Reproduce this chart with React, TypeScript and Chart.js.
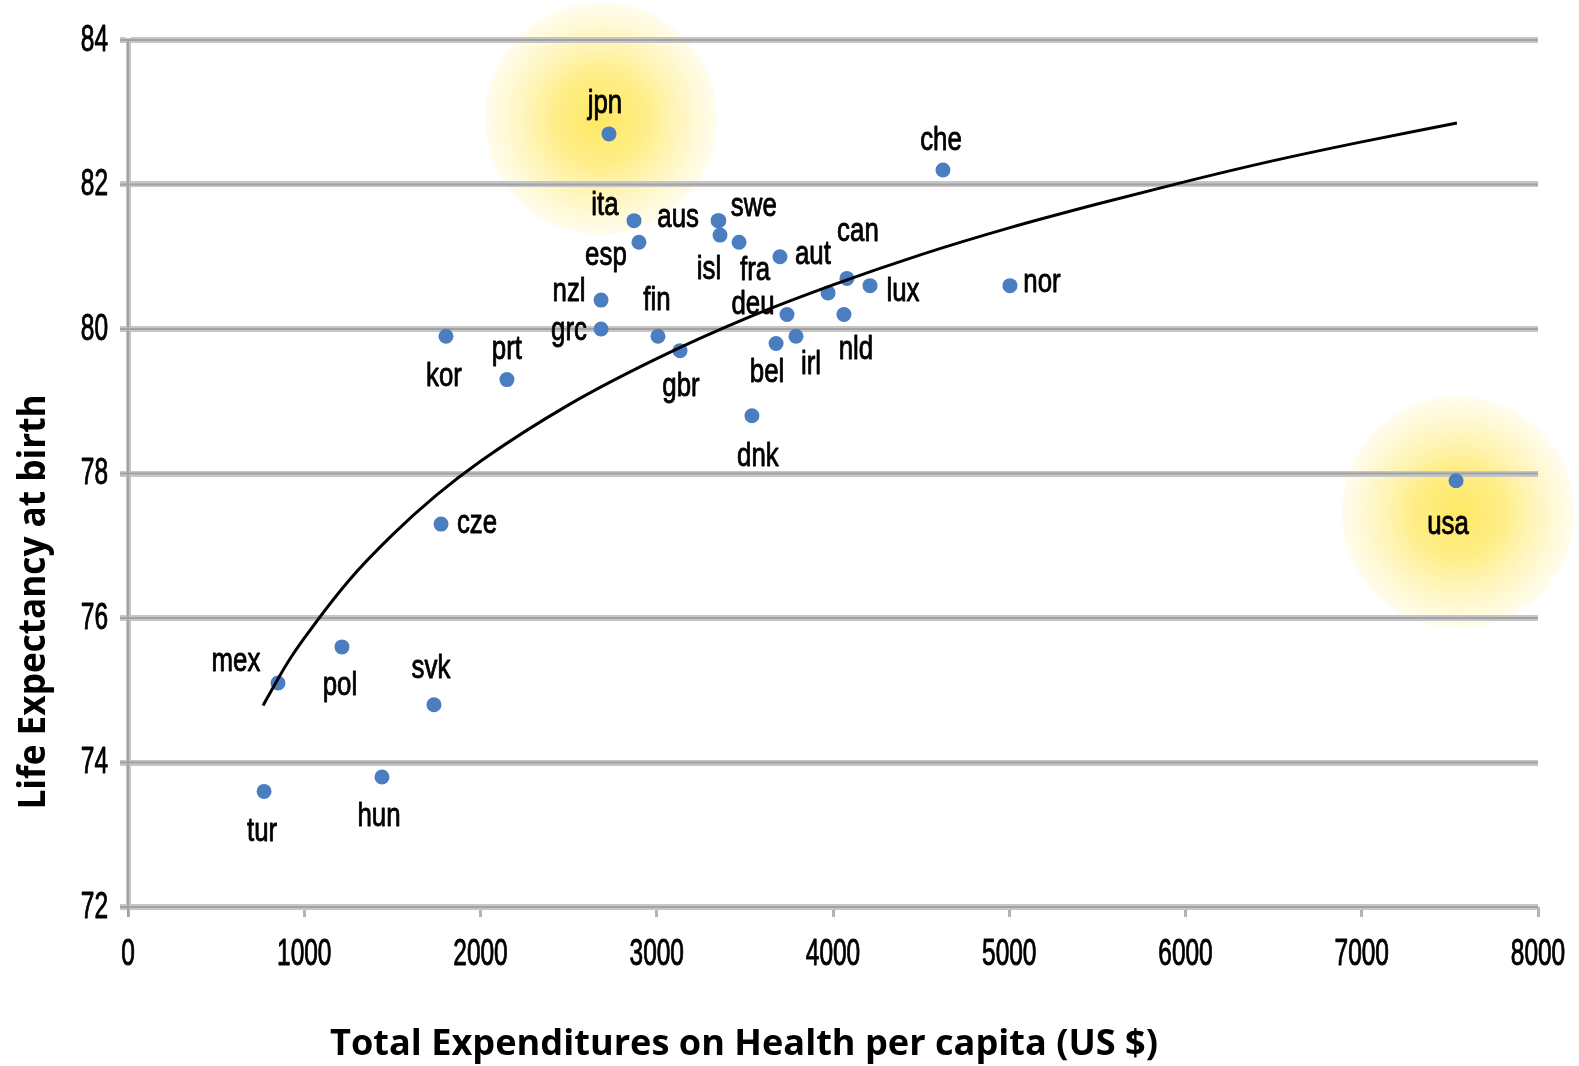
import { useEffect, useRef } from "react";
import { Chart, registerables } from "chart.js";

Chart.register(...registerables);

// ---- data ----
const countries = [
  "jpn", "che", "ita", "aus", "swe", "isl", "esp", "fra", "aut", "can",
  "lux", "", "deu", "nld", "irl", "bel", "nzl", "grc", "fin", "gbr",
  "dnk", "prt", "kor", "nor", "cze", "mex", "pol", "svk", "tur", "hun", "usa",
];
const spending = [
  2729, 4624, 2871, 3348, 3352, 3359, 2899, 3467, 3699, 4079,
  4210, 3972, 3739, 4062, 3790, 3677, 2684, 2684, 3007, 3132,
  3540, 2150, 1804, 5004, 1776, 851, 1214, 1736, 772, 1441, 7535,
];
const lifeExpectancy = [
  82.7, 82.2, 81.5, 81.5, 81.5, 81.3, 81.2, 81.2, 81.0, 80.7,
  80.6, 80.5, 80.2, 80.2, 79.9, 79.8, 80.4, 80.0, 79.9, 79.7,
  78.8, 79.3, 79.9, 80.6, 77.3, 75.1, 75.6, 74.8, 73.6, 73.8, 77.9,
];
// label placement relative to its point (pixels)
const labelDx = [
  -4, -2, -29, -40, 35, -11, -33, 16, 33, 11,
  33, 0, -34, 12, 15, -9, -32, -32, -1, 1,
  6, 0, -2, 32, 36, -42, -2, -3, -2, -3, -8,
];
const labelDy = [
  -30, -29, -15, -3, -14, 35, 13, 28, -2, -47,
  6, 0, -10, 35, 28, 29, -8, 2, -36, 36,
  41, -30, 40, -3, 0, -21, 39, -36, 40, 40, 44,
];

// trend curve
const trendX = [766, 900, 1000, 1250, 1500, 1750, 2000, 2500, 3000, 3500, 4000, 4500, 5000, 5500, 6000, 6500, 7000, 7540];
const trendY = [74.79, 75.36, 75.72, 76.51, 77.15, 77.7, 78.17, 78.95, 79.59, 80.14, 80.61, 81.03, 81.4, 81.73, 82.04, 82.33, 82.59, 82.85];

// highlighted (glowing) areas
const glowX = [2684, 7546];
const glowY = [82.91, 77.46];

const xTickValues = [0, 1000, 2000, 3000, 4000, 5000, 6000, 7000, 8000];
const yTickValues = [72, 74, 76, 78, 80, 82, 84];

const xTitle = "Total Expenditures on Health per capita (US $)";
const yTitle = "Life Expectancy at birth";

const NARROW = '"Liberation Sans", Arial, sans-serif';
const BOLD = '"Open Sans", "Noto Sans", sans-serif';

function narrowText(
  ctx: CanvasRenderingContext2D,
  text: string,
  x: number,
  y: number,
  size: number,
  sx: number,
  align: CanvasTextAlign,
) {
  ctx.save();
  ctx.font = `${size}px ${NARROW}`;
  ctx.textAlign = align;
  ctx.textBaseline = "middle";
  ctx.fillStyle = "#000";
  ctx.strokeStyle = "#000";
  ctx.lineWidth = 0.9;
  ctx.lineJoin = "round";
  ctx.translate(x, y);
  ctx.scale(sx, 1);
  ctx.fillText(text, 0, 0);
  ctx.strokeText(text, 0, 0);
  ctx.restore();
}

function fitText(
  ctx: CanvasRenderingContext2D,
  text: string,
  cx: number,
  baseline: number,
  size: number,
  width: number,
  rotate: boolean,
) {
  ctx.save();
  ctx.font = `bold ${size}px ${BOLD}`;
  ctx.fillStyle = "#000";
  ctx.textAlign = "center";
  ctx.textBaseline = "alphabetic";
  const w = ctx.measureText(text).width;
  const sx = width / w;
  if (rotate) {
    ctx.translate(baseline, cx);
    ctx.rotate(-Math.PI / 2);
  } else {
    ctx.translate(cx, baseline);
  }
  ctx.scale(sx, 1);
  ctx.fillText(text, 0, 0);
  ctx.restore();
}

const decorPlugin = {
  id: "decor",
  beforeDraw(chart: any) {
    const ctx: CanvasRenderingContext2D = chart.ctx;
    const xs = chart.scales.x;
    const ys = chart.scales.y;
    for (let i = 0; i < glowX.length; i++) {
      const cx = xs.getPixelForValue(glowX[i]);
      const cy = ys.getPixelForValue(glowY[i]);
      const r = 116;
      const g = ctx.createRadialGradient(cx, cy, 0, cx, cy, r);
      g.addColorStop(0, "rgba(255,232,100,1)");
      g.addColorStop(0.4, "rgba(255,237,130,0.95)");
      g.addColorStop(0.75, "rgba(255,244,180,0.72)");
      g.addColorStop(1, "rgba(255,250,218,0.5)");
      ctx.save();
      ctx.fillStyle = g;
      ctx.beginPath();
      ctx.arc(cx, cy, r, 0, Math.PI * 2);
      ctx.fill();
      ctx.restore();
    }
  },
  beforeDatasetsDraw(chart: any) {
    const ctx: CanvasRenderingContext2D = chart.ctx;
    const ys = chart.scales.y;
    const area = chart.chartArea;
    ctx.save();
    ctx.strokeStyle = "#a2a2a2";
    ctx.lineWidth = 2;
    for (const v of yTickValues) {
      const y = ys.getPixelForValue(v);
      ctx.beginPath();
      ctx.moveTo(area.left - 8, y);
      ctx.lineTo(area.right, y);
      ctx.stroke();
    }
    ctx.beginPath();
    ctx.moveTo(area.left, area.top);
    ctx.lineTo(area.left, area.bottom + 10);
    ctx.stroke();
    ctx.restore();
  },
  afterDatasetsDraw(chart: any) {
    const ctx: CanvasRenderingContext2D = chart.ctx;
    const meta = chart.getDatasetMeta(1);
    meta.data.forEach((pt: any, i: number) => {
      if (!countries[i]) return;
      narrowText(ctx, countries[i], pt.x + labelDx[i], pt.y + labelDy[i], 34, 0.76, "center");
    });
  },
  afterDraw(chart: any) {
    const ctx: CanvasRenderingContext2D = chart.ctx;
    const xs = chart.scales.x;
    const ys = chart.scales.y;
    for (const v of yTickValues) {
      narrowText(ctx, String(v), 108, ys.getPixelForValue(v) + 1, 36, 0.68, "right");
    }
    for (const v of xTickValues) {
      narrowText(ctx, String(v), xs.getPixelForValue(v), 955, 36, 0.68, "center");
    }
    fitText(ctx, xTitle, 744, 1055, 36, 828, false);
    fitText(ctx, yTitle, 602, 45, 37, 415, true);
  },
};

export default function App() {
  const ref = useRef<HTMLCanvasElement | null>(null);

  useEffect(() => {
    if (!ref.current) return;
    const chart = new Chart(ref.current, {
      type: "scatter",
      data: {
        datasets: [
          {
            type: "line",
            label: "trend",
            data: trendX.map((x, i) => ({ x, y: trendY[i] })),
            borderColor: "#000",
            borderWidth: 3,
            pointRadius: 0,
            showLine: true,
            fill: false,
            cubicInterpolationMode: "monotone",
            order: 0,
          } as any,
          {
            label: "countries",
            data: spending.map((x, i) => ({ x, y: lifeExpectancy[i] })),
            backgroundColor: "#4a7ec0",
            borderColor: "#4a7ec0",
            borderWidth: 0,
            pointRadius: 7.5,
            order: 1,
          },
        ],
      },
      options: {
        animation: false,
        responsive: false,
        maintainAspectRatio: false,
        events: [],
        layout: { padding: { top: 40, right: 41, left: 0, bottom: 0 } },
        plugins: {
          legend: { display: false },
          tooltip: { enabled: false },
        },
        scales: {
          x: {
            type: "linear",
            min: 0,
            max: 8000,
            ticks: { stepSize: 1000, display: false },
            grid: {
              drawOnChartArea: false,
              drawTicks: true,
              tickLength: 10,
              color: "#b4b4b4",
              lineWidth: 3,
            },
            border: { display: false },
            afterFit: (s: any) => {
              s.height = 159;
            },
          },
          y: {
            type: "linear",
            min: 72,
            max: 84,
            ticks: { stepSize: 2, display: false },
            grid: {
              color: "#c6c6c6",
              lineWidth: 6,
              drawTicks: true,
              tickLength: 8,
            },
            border: { display: true, color: "#c6c6c6", width: 5 },
            afterFit: (s: any) => {
              s.width = 128;
            },
          },
        },
      },
      plugins: [decorPlugin],
    });
    return () => chart.destroy();
  }, []);

  return (
    <div style={{ position: "fixed", left: 0, top: 0, width: 1579, height: 1066, background: "#fff" }}>
      <canvas ref={ref} width={1579} height={1066} style={{ width: 1579, height: 1066 }} />
    </div>
  );
}
